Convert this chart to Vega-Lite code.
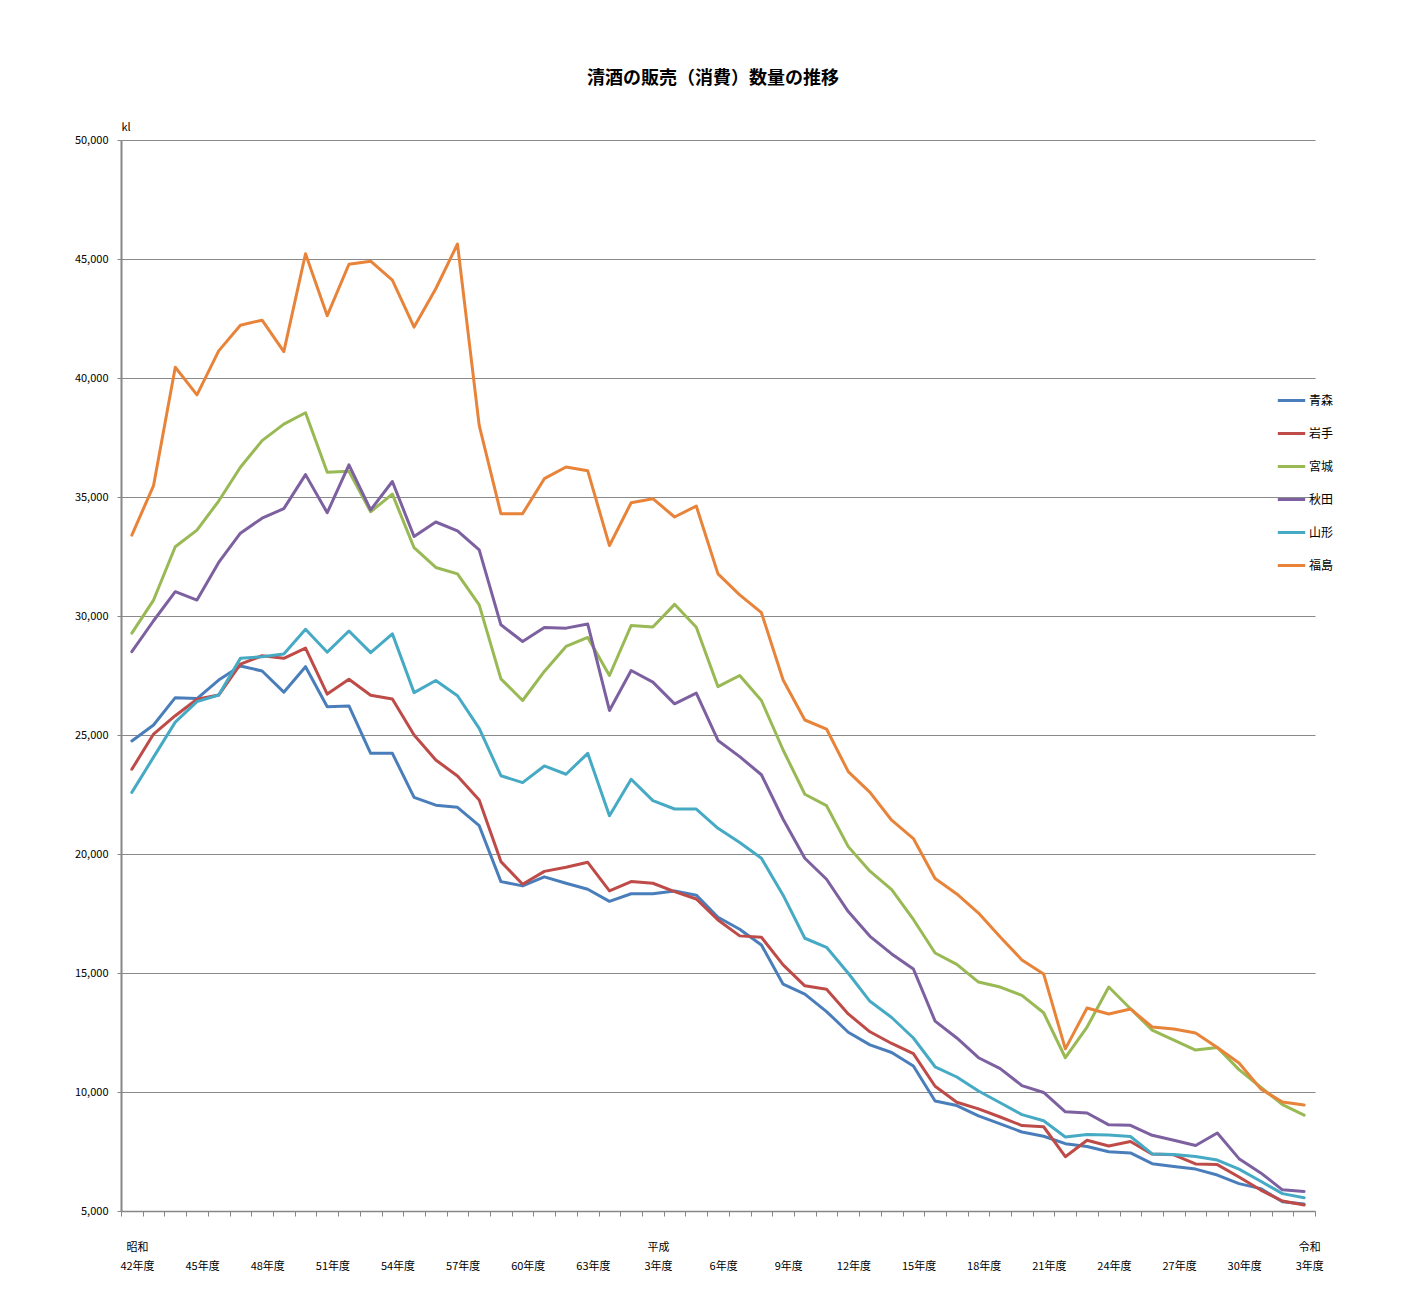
{
  "$schema": "https://vega.github.io/schema/vega-lite/v6.json",
  "autosize": {"type": "none"},
  "padding": {"left": 121, "top": 140, "right": 97, "bottom": 93},
  "width": 1194,
  "height": 1071,
  "background": "white",
  "config": {
    "view": {"stroke": null},
    "font": "Noto Sans CJK JP"
  },
  "title": {
    "text": "清酒の販売（消費）数量の推移",
    "fontSize": 18,
    "fontWeight": "bold",
    "font": "Noto Sans CJK JP",
    "color": "#000000",
    "anchor": "middle",
    "frame": "group",
    "offset": 33,
    "dx": -5
  },
  "data": {
    "values": [
{"year":1967,"pref":"青森","kl":24750},{"year":1968,"pref":"青森","kl":25420},{"year":1969,"pref":"青森","kl":26570},{"year":1970,"pref":"青森","kl":26530},{"year":1971,"pref":"青森","kl":27310},{"year":1972,"pref":"青森","kl":27900},{"year":1973,"pref":"青森","kl":27690},{"year":1974,"pref":"青森","kl":26800},{"year":1975,"pref":"青森","kl":27870},{"year":1976,"pref":"青森","kl":26190},{"year":1977,"pref":"青森","kl":26220},{"year":1978,"pref":"青森","kl":24230},{"year":1979,"pref":"青森","kl":24230},{"year":1980,"pref":"青森","kl":22380},{"year":1981,"pref":"青森","kl":22050},{"year":1982,"pref":"青森","kl":21960},{"year":1983,"pref":"青森","kl":21190},{"year":1984,"pref":"青森","kl":18840},{"year":1985,"pref":"青森","kl":18660},{"year":1986,"pref":"青森","kl":19040},{"year":1987,"pref":"青森","kl":18770},{"year":1988,"pref":"青森","kl":18520},{"year":1989,"pref":"青森","kl":18010},{"year":1990,"pref":"青森","kl":18330},{"year":1991,"pref":"青森","kl":18330},{"year":1992,"pref":"青森","kl":18450},{"year":1993,"pref":"青森","kl":18270},{"year":1994,"pref":"青森","kl":17340},{"year":1995,"pref":"青森","kl":16840},{"year":1996,"pref":"青森","kl":16180},{"year":1997,"pref":"青森","kl":14530},{"year":1998,"pref":"青森","kl":14110},{"year":1999,"pref":"青森","kl":13380},{"year":2000,"pref":"青森","kl":12510},{"year":2001,"pref":"青森","kl":11980},{"year":2002,"pref":"青森","kl":11660},{"year":2003,"pref":"青森","kl":11090},{"year":2004,"pref":"青森","kl":9620},{"year":2005,"pref":"青森","kl":9430},{"year":2006,"pref":"青森","kl":9000},{"year":2007,"pref":"青森","kl":8660},{"year":2008,"pref":"青森","kl":8320},{"year":2009,"pref":"青森","kl":8140},{"year":2010,"pref":"青森","kl":7830},{"year":2011,"pref":"青森","kl":7710},{"year":2012,"pref":"青森","kl":7490},{"year":2013,"pref":"青森","kl":7440},{"year":2014,"pref":"青森","kl":6990},{"year":2015,"pref":"青森","kl":6870},{"year":2016,"pref":"青森","kl":6760},{"year":2017,"pref":"青森","kl":6510},{"year":2018,"pref":"青森","kl":6150},{"year":2019,"pref":"青森","kl":5940},{"year":2020,"pref":"青森","kl":5390},{"year":2021,"pref":"青森","kl":5290},
{"year":1967,"pref":"岩手","kl":23560},{"year":1968,"pref":"岩手","kl":25040},{"year":1969,"pref":"岩手","kl":25810},{"year":1970,"pref":"岩手","kl":26500},{"year":1971,"pref":"岩手","kl":26680},{"year":1972,"pref":"岩手","kl":27980},{"year":1973,"pref":"岩手","kl":28330},{"year":1974,"pref":"岩手","kl":28220},{"year":1975,"pref":"岩手","kl":28650},{"year":1976,"pref":"岩手","kl":26720},{"year":1977,"pref":"岩手","kl":27340},{"year":1978,"pref":"岩手","kl":26670},{"year":1979,"pref":"岩手","kl":26510},{"year":1980,"pref":"岩手","kl":25000},{"year":1981,"pref":"岩手","kl":23950},{"year":1982,"pref":"岩手","kl":23280},{"year":1983,"pref":"岩手","kl":22270},{"year":1984,"pref":"岩手","kl":19680},{"year":1985,"pref":"岩手","kl":18730},{"year":1986,"pref":"岩手","kl":19270},{"year":1987,"pref":"岩手","kl":19440},{"year":1988,"pref":"岩手","kl":19650},{"year":1989,"pref":"岩手","kl":18450},{"year":1990,"pref":"岩手","kl":18840},{"year":1991,"pref":"岩手","kl":18770},{"year":1992,"pref":"岩手","kl":18420},{"year":1993,"pref":"岩手","kl":18110},{"year":1994,"pref":"岩手","kl":17230},{"year":1995,"pref":"岩手","kl":16560},{"year":1996,"pref":"岩手","kl":16500},{"year":1997,"pref":"岩手","kl":15340},{"year":1998,"pref":"岩手","kl":14460},{"year":1999,"pref":"岩手","kl":14320},{"year":2000,"pref":"岩手","kl":13280},{"year":2001,"pref":"岩手","kl":12530},{"year":2002,"pref":"岩手","kl":12040},{"year":2003,"pref":"岩手","kl":11610},{"year":2004,"pref":"岩手","kl":10240},{"year":2005,"pref":"岩手","kl":9570},{"year":2006,"pref":"岩手","kl":9290},{"year":2007,"pref":"岩手","kl":8950},{"year":2008,"pref":"岩手","kl":8590},{"year":2009,"pref":"岩手","kl":8540},{"year":2010,"pref":"岩手","kl":7280},{"year":2011,"pref":"岩手","kl":7970},{"year":2012,"pref":"岩手","kl":7730},{"year":2013,"pref":"岩手","kl":7920},{"year":2014,"pref":"岩手","kl":7390},{"year":2015,"pref":"岩手","kl":7360},{"year":2016,"pref":"岩手","kl":6980},{"year":2017,"pref":"岩手","kl":6950},{"year":2018,"pref":"岩手","kl":6430},{"year":2019,"pref":"岩手","kl":5880},{"year":2020,"pref":"岩手","kl":5420},{"year":2021,"pref":"岩手","kl":5250},
{"year":1967,"pref":"宮城","kl":29280},{"year":1968,"pref":"宮城","kl":30670},{"year":1969,"pref":"宮城","kl":32910},{"year":1970,"pref":"宮城","kl":33610},{"year":1971,"pref":"宮城","kl":34830},{"year":1972,"pref":"宮城","kl":36250},{"year":1973,"pref":"宮城","kl":37370},{"year":1974,"pref":"宮城","kl":38060},{"year":1975,"pref":"宮城","kl":38540},{"year":1976,"pref":"宮城","kl":36040},{"year":1977,"pref":"宮城","kl":36080},{"year":1978,"pref":"宮城","kl":34380},{"year":1979,"pref":"宮城","kl":35120},{"year":1980,"pref":"宮城","kl":32870},{"year":1981,"pref":"宮城","kl":32040},{"year":1982,"pref":"宮城","kl":31770},{"year":1983,"pref":"宮城","kl":30470},{"year":1984,"pref":"宮城","kl":27360},{"year":1985,"pref":"宮城","kl":26450},{"year":1986,"pref":"宮城","kl":27670},{"year":1987,"pref":"宮城","kl":28720},{"year":1988,"pref":"宮城","kl":29100},{"year":1989,"pref":"宮城","kl":27500},{"year":1990,"pref":"宮城","kl":29600},{"year":1991,"pref":"宮城","kl":29540},{"year":1992,"pref":"宮城","kl":30490},{"year":1993,"pref":"宮城","kl":29530},{"year":1994,"pref":"宮城","kl":27030},{"year":1995,"pref":"宮城","kl":27500},{"year":1996,"pref":"宮城","kl":26450},{"year":1997,"pref":"宮城","kl":24370},{"year":1998,"pref":"宮城","kl":22510},{"year":1999,"pref":"宮城","kl":22030},{"year":2000,"pref":"宮城","kl":20310},{"year":2001,"pref":"宮城","kl":19280},{"year":2002,"pref":"宮城","kl":18500},{"year":2003,"pref":"宮城","kl":17250},{"year":2004,"pref":"宮城","kl":15840},{"year":2005,"pref":"宮城","kl":15360},{"year":2006,"pref":"宮城","kl":14620},{"year":2007,"pref":"宮城","kl":14410},{"year":2008,"pref":"宮城","kl":14060},{"year":2009,"pref":"宮城","kl":13330},{"year":2010,"pref":"宮城","kl":11440},{"year":2011,"pref":"宮城","kl":12730},{"year":2012,"pref":"宮城","kl":14410},{"year":2013,"pref":"宮城","kl":13500},{"year":2014,"pref":"宮城","kl":12600},{"year":2015,"pref":"宮城","kl":12180},{"year":2016,"pref":"宮城","kl":11760},{"year":2017,"pref":"宮城","kl":11870},{"year":2018,"pref":"宮城","kl":10940},{"year":2019,"pref":"宮城","kl":10200},{"year":2020,"pref":"宮城","kl":9470},{"year":2021,"pref":"宮城","kl":9030},
{"year":1967,"pref":"秋田","kl":28500},{"year":1968,"pref":"秋田","kl":29800},{"year":1969,"pref":"秋田","kl":31020},{"year":1970,"pref":"秋田","kl":30670},{"year":1971,"pref":"秋田","kl":32250},{"year":1972,"pref":"秋田","kl":33480},{"year":1973,"pref":"秋田","kl":34110},{"year":1974,"pref":"秋田","kl":34510},{"year":1975,"pref":"秋田","kl":35940},{"year":1976,"pref":"秋田","kl":34340},{"year":1977,"pref":"秋田","kl":36350},{"year":1978,"pref":"秋田","kl":34460},{"year":1979,"pref":"秋田","kl":35650},{"year":1980,"pref":"秋田","kl":33340},{"year":1981,"pref":"秋田","kl":33950},{"year":1982,"pref":"秋田","kl":33580},{"year":1983,"pref":"秋田","kl":32780},{"year":1984,"pref":"秋田","kl":29630},{"year":1985,"pref":"秋田","kl":28930},{"year":1986,"pref":"秋田","kl":29520},{"year":1987,"pref":"秋田","kl":29490},{"year":1988,"pref":"秋田","kl":29660},{"year":1989,"pref":"秋田","kl":26030},{"year":1990,"pref":"秋田","kl":27710},{"year":1991,"pref":"秋田","kl":27220},{"year":1992,"pref":"秋田","kl":26310},{"year":1993,"pref":"秋田","kl":26760},{"year":1994,"pref":"秋田","kl":24770},{"year":1995,"pref":"秋田","kl":24090},{"year":1996,"pref":"秋田","kl":23330},{"year":1997,"pref":"秋田","kl":21460},{"year":1998,"pref":"秋田","kl":19820},{"year":1999,"pref":"秋田","kl":18940},{"year":2000,"pref":"秋田","kl":17580},{"year":2001,"pref":"秋田","kl":16540},{"year":2002,"pref":"秋田","kl":15800},{"year":2003,"pref":"秋田","kl":15170},{"year":2004,"pref":"秋田","kl":12980},{"year":2005,"pref":"秋田","kl":12270},{"year":2006,"pref":"秋田","kl":11440},{"year":2007,"pref":"秋田","kl":10980},{"year":2008,"pref":"秋田","kl":10270},{"year":2009,"pref":"秋田","kl":9980},{"year":2010,"pref":"秋田","kl":9170},{"year":2011,"pref":"秋田","kl":9120},{"year":2012,"pref":"秋田","kl":8620},{"year":2013,"pref":"秋田","kl":8600},{"year":2014,"pref":"秋田","kl":8180},{"year":2015,"pref":"秋田","kl":7970},{"year":2016,"pref":"秋田","kl":7750},{"year":2017,"pref":"秋田","kl":8280},{"year":2018,"pref":"秋田","kl":7200},{"year":2019,"pref":"秋田","kl":6600},{"year":2020,"pref":"秋田","kl":5890},{"year":2021,"pref":"秋田","kl":5820},
{"year":1967,"pref":"山形","kl":22590},{"year":1968,"pref":"山形","kl":24070},{"year":1969,"pref":"山形","kl":25540},{"year":1970,"pref":"山形","kl":26400},{"year":1971,"pref":"山形","kl":26680},{"year":1972,"pref":"山形","kl":28220},{"year":1973,"pref":"山形","kl":28290},{"year":1974,"pref":"山形","kl":28400},{"year":1975,"pref":"山形","kl":29440},{"year":1976,"pref":"山形","kl":28480},{"year":1977,"pref":"山形","kl":29370},{"year":1978,"pref":"山形","kl":28460},{"year":1979,"pref":"山形","kl":29250},{"year":1980,"pref":"山形","kl":26780},{"year":1981,"pref":"山形","kl":27290},{"year":1982,"pref":"山形","kl":26650},{"year":1983,"pref":"山形","kl":25280},{"year":1984,"pref":"山形","kl":23290},{"year":1985,"pref":"山形","kl":23000},{"year":1986,"pref":"山形","kl":23700},{"year":1987,"pref":"山形","kl":23350},{"year":1988,"pref":"山形","kl":24230},{"year":1989,"pref":"山形","kl":21610},{"year":1990,"pref":"山形","kl":23140},{"year":1991,"pref":"山形","kl":22240},{"year":1992,"pref":"山形","kl":21890},{"year":1993,"pref":"山形","kl":21890},{"year":1994,"pref":"山形","kl":21080},{"year":1995,"pref":"山形","kl":20480},{"year":1996,"pref":"山形","kl":19820},{"year":1997,"pref":"山形","kl":18270},{"year":1998,"pref":"山形","kl":16460},{"year":1999,"pref":"山形","kl":16080},{"year":2000,"pref":"山形","kl":14990},{"year":2001,"pref":"山形","kl":13810},{"year":2002,"pref":"山形","kl":13130},{"year":2003,"pref":"山形","kl":12270},{"year":2004,"pref":"山形","kl":11060},{"year":2005,"pref":"山形","kl":10630},{"year":2006,"pref":"山形","kl":10040},{"year":2007,"pref":"山形","kl":9550},{"year":2008,"pref":"山形","kl":9050},{"year":2009,"pref":"山形","kl":8790},{"year":2010,"pref":"山形","kl":8110},{"year":2011,"pref":"山形","kl":8210},{"year":2012,"pref":"山形","kl":8190},{"year":2013,"pref":"山形","kl":8130},{"year":2014,"pref":"山形","kl":7400},{"year":2015,"pref":"山形","kl":7370},{"year":2016,"pref":"山形","kl":7290},{"year":2017,"pref":"山形","kl":7140},{"year":2018,"pref":"山形","kl":6760},{"year":2019,"pref":"山形","kl":6250},{"year":2020,"pref":"山形","kl":5730},{"year":2021,"pref":"山形","kl":5560},
{"year":1967,"pref":"福島","kl":33400},{"year":1968,"pref":"福島","kl":35480},{"year":1969,"pref":"福島","kl":40450},{"year":1970,"pref":"福島","kl":39290},{"year":1971,"pref":"福島","kl":41140},{"year":1972,"pref":"福島","kl":42220},{"year":1973,"pref":"福島","kl":42430},{"year":1974,"pref":"福島","kl":41110},{"year":1975,"pref":"福島","kl":45220},{"year":1976,"pref":"福島","kl":42620},{"year":1977,"pref":"福島","kl":44780},{"year":1978,"pref":"福島","kl":44910},{"year":1979,"pref":"福島","kl":44110},{"year":1980,"pref":"福島","kl":42140},{"year":1981,"pref":"福島","kl":43750},{"year":1982,"pref":"福島","kl":45630},{"year":1983,"pref":"福島","kl":38010},{"year":1984,"pref":"福島","kl":34300},{"year":1985,"pref":"福島","kl":34300},{"year":1986,"pref":"福島","kl":35770},{"year":1987,"pref":"福島","kl":36260},{"year":1988,"pref":"福島","kl":36100},{"year":1989,"pref":"福島","kl":32960},{"year":1990,"pref":"福島","kl":34760},{"year":1991,"pref":"福島","kl":34930},{"year":1992,"pref":"福島","kl":34160},{"year":1993,"pref":"福島","kl":34620},{"year":1994,"pref":"福島","kl":31770},{"year":1995,"pref":"福島","kl":30890},{"year":1996,"pref":"福島","kl":30140},{"year":1997,"pref":"福島","kl":27310},{"year":1998,"pref":"福島","kl":25630},{"year":1999,"pref":"福島","kl":25250},{"year":2000,"pref":"福島","kl":23460},{"year":2001,"pref":"福島","kl":22590},{"year":2002,"pref":"福島","kl":21420},{"year":2003,"pref":"福島","kl":20650},{"year":2004,"pref":"福島","kl":18970},{"year":2005,"pref":"福島","kl":18320},{"year":2006,"pref":"福島","kl":17520},{"year":2007,"pref":"福島","kl":16510},{"year":2008,"pref":"福島","kl":15550},{"year":2009,"pref":"福島","kl":14960},{"year":2010,"pref":"福島","kl":11810},{"year":2011,"pref":"福島","kl":13530},{"year":2012,"pref":"福島","kl":13280},{"year":2013,"pref":"福島","kl":13490},{"year":2014,"pref":"福島","kl":12730},{"year":2015,"pref":"福島","kl":12650},{"year":2016,"pref":"福島","kl":12480},{"year":2017,"pref":"福島","kl":11870},{"year":2018,"pref":"福島","kl":11220},{"year":2019,"pref":"福島","kl":10130},{"year":2020,"pref":"福島","kl":9580},{"year":2021,"pref":"福島","kl":9450}
    ]
  },
  "mark": {"type": "line", "strokeWidth": 3, "strokeJoin": "round", "strokeCap": "round"},
  "encoding": {
    "x": {
      "field": "year",
      "type": "quantitative",
      "scale": {"domain": [1966.5, 2021.5], "nice": false, "zero": false},
      "axis": {
        "title": null,
        "values": [1966.5,1967.5,1968.5,1969.5,1970.5,1971.5,1972.5,1973.5,1974.5,1975.5,1976.5,1977.5,1978.5,1979.5,1980.5,1981.5,1982.5,1983.5,1984.5,1985.5,1986.5,1987.5,1988.5,1989.5,1990.5,1991.5,1992.5,1993.5,1994.5,1995.5,1996.5,1997.5,1998.5,1999.5,2000.5,2001.5,2002.5,2003.5,2004.5,2005.5,2006.5,2007.5,2008.5,2009.5,2010.5,2011.5,2012.5,2013.5,2014.5,2015.5,2016.5,2017.5,2018.5,2019.5,2020.5,2021.5],
        "labelExpr": "(datum.value + 0.5) == 1967 ? ['昭和', '42年度'] : (datum.value + 0.5) == 1991 ? ['平成', '3年度'] : (datum.value + 0.5) == 2021 ? ['令和', '3年度'] : ((datum.value + 0.5 - 1967) % 3 != 0 || (datum.value + 0.5) > 2021) ? '' : (datum.value + 0.5) < 1989 ? [' ', (datum.value + 0.5 - 1925) + '年度'] : [' ', (datum.value + 0.5 - 1988) + '年度']",
        "labelOffset": 16,
        "labelBaseline": "bottom",
        "labelPadding": 36,
        "labelLineHeight": 19,
        "labelFontSize": 11,
        "labelColor": "#000000",
        "labelOverlap": false,
        "labelFlush": false,
        "labelBound": false,
        "grid": false,
        "tickSize": 5,
        "tickColor": "#868686",
        "tickWidth": 1,
        "domainColor": "#868686",
        "domainWidth": 1.5
      }
    },
    "y": {
      "field": "kl",
      "type": "quantitative",
      "scale": {"domain": [5000, 50000], "nice": false, "zero": false},
      "axis": {
        "title": "kl",
        "titleAngle": 0,
        "titleX": 0,
        "titleY": -13,
        "titleAlign": "left",
        "titleBaseline": "middle",
        "titleFontSize": 11,
        "titleFontWeight": "normal",
        "titleColor": "#000000",
        "values": [5000,10000,15000,20000,25000,30000,35000,40000,45000,50000],
        "format": ",.0f",
        "labelFontSize": 11,
        "labelColor": "#000000",
        "labelPadding": 9,
        "grid": true,
        "gridColor": "#8a8a8a",
        "gridWidth": 1,
        "tickSize": 4,
        "tickColor": "#868686",
        "domainColor": "#868686",
        "domainWidth": 2
      }
    },
    "color": {
      "field": "pref",
      "type": "nominal",
      "scale": {
        "domain": ["青森", "岩手", "宮城", "秋田", "山形", "福島"],
        "range": ["#4A7EBB", "#BE4B48", "#98B954", "#7D60A0", "#46AAC5", "#E8843A"]
      },
      "legend": {
        "title": null,
        "orient": "none",
        "legendX": 1155,
        "legendY": 245,
        "symbolType": "stroke",
        "symbolSize": 750,
        "symbolStrokeWidth": 3,
        "labelFontSize": 12,
        "labelColor": "#000000",
        "labelOffset": 2,
        "rowPadding": 11
      }
    }
  }
}
